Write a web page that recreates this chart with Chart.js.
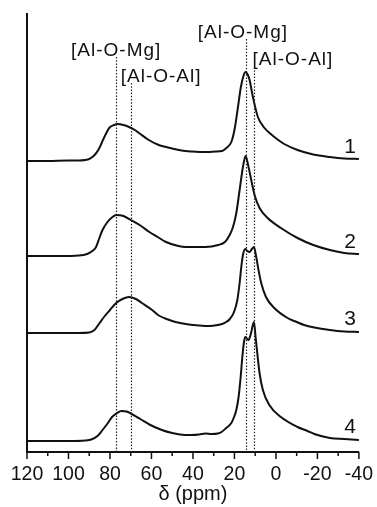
<!DOCTYPE html>
<html>
<head>
<meta charset="utf-8">
<script src="https://cdn.jsdelivr.net/npm/chart.js@4.4.1/dist/chart.umd.min.js"></script>
<style>
  html, body { margin: 0; padding: 0; background: #fff; }
  #wrap { width: 377px; height: 507px; }
</style>
</head>
<body>
<div id="wrap"><canvas id="nmr"></canvas></div>
<script>
// chemical shift (ppm) and intensity (a.u.)
const ppm1 = [120, 110, 100, 95, 92, 90, 88.5, 87, 85.1, 83.8, 82.7, 81.5, 80.4, 78, 76.4, 73.5, 70.8, 68, 66, 61.3, 56.5, 53, 49, 45.5, 41, 37, 33, 29, 26, 23.9, 21.5, 20, 18.5, 16.9, 15.5, 14.6, 13.5, 12.7, 11.1, 8.7, 5.5, 2.5, -0.8, -4, -10.4, -18, -26, -33, -40];
const int1 = [0, 0, 0.5, 0.5, 1, 2, 4, 7, 13, 19, 24, 29, 33, 36, 37, 36, 34, 31, 28, 21, 16, 14, 12, 10.5, 9.5, 9, 9, 9.5, 10, 13, 19, 31, 51, 74, 86, 89, 86, 81, 64, 44, 33, 27, 21.5, 17, 11, 6.5, 4, 2.5, 2];

const ppm2 = [120, 105, 95, 91, 88.5, 86.7, 85.1, 83.6, 81.2, 78.8, 77, 73.5, 70, 65, 61, 57, 53, 47, 43.6, 37.4, 34, 27.8, 24.6, 22.3, 20.7, 19.1, 17.5, 15.9, 14.6, 13.2, 11.9, 10.3, 7.9, 4, -2.4, -10.4, -18, -26, -33, -40];
const int2 = [0, 0, 0.5, 2, 5, 9, 18, 26, 34, 39, 41, 40, 36, 30, 24, 19, 14, 10, 9, 9, 9, 11, 14, 21, 29, 43, 66, 89, 100, 89, 76, 61, 48, 38, 28, 18, 11, 6, 3, 2];

const ppm3 = [120, 105, 95, 90, 87.5, 85, 82.5, 80, 77, 74, 70.8, 67.5, 64.6, 60, 56.5, 52, 48.4, 42, 37, 32, 28, 26, 24, 22.2, 20.2, 18.6, 17.5, 16.7, 15.9, 14.8, 13.8, 12.7, 11.6, 10.6, 9.5, 8.4, 7.1, 4.8, 0.8, -5.6, -10, -13.6, -18.5, -26, -33, -40];
const int3 = [0, 0, 0, 0.5, 3, 10, 17, 23, 30, 34, 36, 34, 30, 23.5, 17.5, 13.5, 11, 8.5, 7.5, 7, 8, 9, 11, 14, 21, 33, 50, 66, 78, 84, 82, 81, 84, 86, 76, 63, 50, 36, 25, 15, 11, 8, 5.5, 3, 1.5, 1];

const ppm4 = [120, 100, 92, 89, 86, 83.6, 81, 79, 76.5, 74.6, 72, 70, 65, 61, 55, 50, 44, 40.7, 37, 34, 31, 28, 26.2, 24, 21.5, 20, 19.1, 18, 17, 16.2, 15.4, 14.8, 13.2, 12, 10.6, 9.8, 9, 7.9, 6.3, 3.2, -2.4, -10.4, -15.2, -18.5, -26, -33, -40];
const int4 = [0, 0, 0.5, 1.5, 5, 11, 18, 24, 28, 30, 29.5, 27.5, 21.5, 16.5, 11, 8, 6, 6, 6.5, 7.5, 7, 7.5, 9, 13, 18, 25, 31, 44, 64, 84, 99, 104, 101, 108, 119, 104, 88, 68, 51, 36, 24, 14, 10, 7, 3, 2, 1];

// vertical stacking offset of each spectrum
const traceOffsets = [291, 196, 119, 11];
const traceNames = ['1', '2', '3', '4'];

// reference positions (ppm) and their labels
const markerPpm = [77, 70, 14.5, 10.8];
const markerNames = ['[Al-O-Mg]', '[Al-O-Al]', '[Al-O-Mg]', '[Al-O-Al]'];

const xTicks = [120, 100, 80, 60, 40, 20, 0, -20, -40];

const spectra = [[ppm1, int1], [ppm2, int2], [ppm3, int3], [ppm4, int4]];

const datasets = spectra.map(([ppm, inten], i) => ({
  label: traceNames[i],
  data: ppm.map((p, k) => ({ x: p, y: inten[k] + traceOffsets[i] })),
  borderColor: '#111',
  borderWidth: 2,
  pointRadius: 0,
  fill: false,
  cubicInterpolationMode: 'monotone'
}));

const FONT = 'Arial, "Liberation Sans", sans-serif';
Chart.defaults.font.family = FONT;
Chart.defaults.color = '#111';

// label placement for the reference markers (pixel offsets from the line)
const markerStyle = [
  { align: 'center', dx: 0, base: 56, top: 57 },
  { align: 'left', dx: -10, base: 82, top: 83 },
  { align: 'center', dx: -3, base: 38, top: 39 },
  { align: 'left', dx: -1, base: 65, top: 67 }
];

const overlay = {
  id: 'overlay',
  afterDraw(chart) {
    const { ctx, chartArea, scales: { x, y } } = chart;
    ctx.save();

    // tick marks, major every 20, minor every 10
    ctx.strokeStyle = '#111';
    ctx.lineWidth = 1.5;
    x.ticks.forEach(t => {
      const px = x.getPixelForValue(t.value);
      const len = xTicks.includes(t.value) ? 7 : 4;
      ctx.beginPath();
      ctx.moveTo(px, chartArea.bottom);
      ctx.lineTo(px, chartArea.bottom + len);
      ctx.stroke();
    });

    // dotted marker lines
    ctx.lineWidth = 1.2;
    ctx.strokeStyle = '#222';
    ctx.setLineDash([1.5, 1.7]);
    markerPpm.forEach((p, i) => {
      const px = Math.round(x.getPixelForValue(p)) + 0.5;
      ctx.beginPath();
      ctx.moveTo(px, markerStyle[i].top);
      ctx.lineTo(px, chartArea.bottom);
      ctx.stroke();
    });
    ctx.setLineDash([]);

    // marker labels
    ctx.fillStyle = '#111';
    ctx.font = '19px ' + FONT;
    ctx.letterSpacing = '1px';
    ctx.textBaseline = 'alphabetic';
    markerNames.forEach((name, i) => {
      const s = markerStyle[i];
      ctx.textAlign = s.align;
      ctx.fillText(name, x.getPixelForValue(markerPpm[i]) + s.dx, s.base);
    });
    ctx.letterSpacing = '0px';

    // spectrum numbers
    ctx.font = '21px ' + FONT;
    ctx.textAlign = 'right';
    traceOffsets.forEach((off, i) => {
      ctx.fillText(traceNames[i], chartArea.right - 3, y.getPixelForValue(off) - 8);
    });
    ctx.restore();
  }
};

new Chart(document.getElementById('nmr'), {
  type: 'line',
  data: { datasets },
  options: {
    responsive: true,
    maintainAspectRatio: false,
    animation: false,
    layout: { padding: { top: 14, right: 15, left: 0, bottom: 0 } },
    plugins: { legend: { display: false }, tooltip: { enabled: false } },
    scales: {
      x: {
        type: 'linear',
        reverse: true,
        min: -40,
        max: 120,
        afterFit: s => { s.height = 55; },
        grid: { display: true, drawOnChartArea: false, drawTicks: true, tickLength: 7, color: 'transparent' },
        border: { display: true, color: '#111', width: 2 },
        ticks: {
          stepSize: 10,
          autoSkip: false,
          maxRotation: 0,
          padding: 4,
          color: '#111',
          font: { size: 19.5 },
          callback: v => xTicks.includes(v) ? String(v) : ''
        },
        title: { display: true, text: 'δ (ppm)', color: '#111', font: { size: 20 }, padding: { top: 0, bottom: 1 } }
      },
      y: {
        min: 0,
        max: 438,
        afterFit: s => { s.width = 27; },
        grid: { display: false },
        border: { display: true, color: '#111', width: 2 },
        ticks: { display: false }
      }
    }
  },
  plugins: [overlay]
});
</script>
</body>
</html>
